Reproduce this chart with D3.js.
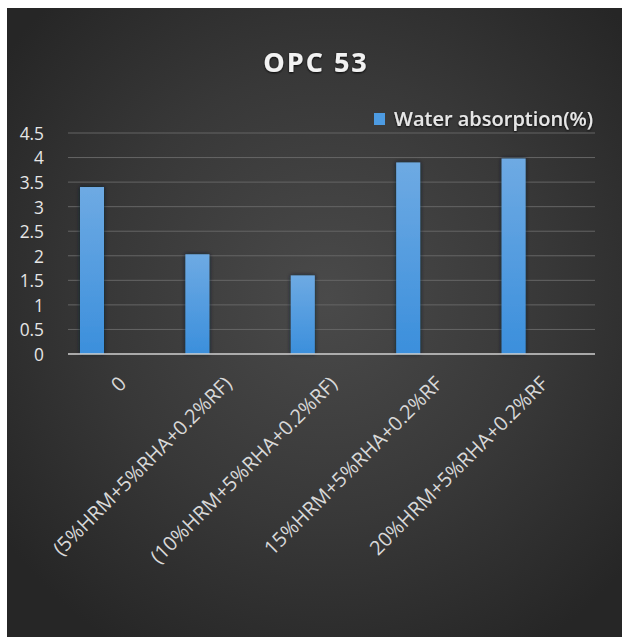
<!DOCTYPE html>
<html>
<head>
<meta charset="utf-8">
<script src="https://cdn.jsdelivr.net/npm/d3@7"></script>
<style>
  html, body { margin: 0; padding: 0; background: #ffffff; }
  svg { display: block; }
  text { font-family: "Open Sans", "DejaVu Sans", sans-serif; }
</style>
</head>
<body>
<svg id="chart" width="622" height="637"></svg>
<script>
// Water absorption of OPC 53 mixes
const categories = [
  "0",
  "(5%HRM+5%RHA+0.2%RF)",
  "(10%HRM+5%RHA+0.2%RF)",
  "15%HRM+5%RHA+0.2%RF",
  "20%HRM+5%RHA+0.2%RF"
];
const waterAbsorption = [3.4, 2.03, 1.6, 3.9, 3.98];
const yTicks = [0, 0.5, 1, 1.5, 2, 2.5, 3, 3.5, 4, 4.5];
const seriesName = "Water absorption(%)";
const chartTitle = "OPC 53";

const W = 622, H = 637;
const svg = d3.select("#chart");
const defs = svg.append("defs");

// panel background: dark radial shading
const bg = defs.append("radialGradient").attr("id", "bg")
  .attr("cx", "52%").attr("cy", "46%").attr("r", "65%");
bg.append("stop").attr("offset", "0%").attr("stop-color", "#4a4a4a");
bg.append("stop").attr("offset", "55%").attr("stop-color", "#383838");
bg.append("stop").attr("offset", "100%").attr("stop-color", "#262626");

const barGrad = defs.append("linearGradient").attr("id", "barGrad")
  .attr("x1", 0).attr("y1", 0).attr("x2", 0).attr("y2", 1);
barGrad.append("stop").attr("offset", "0%").attr("stop-color", "#6eaae3");
barGrad.append("stop").attr("offset", "100%").attr("stop-color", "#3b8fdc");

const shadow = defs.append("filter").attr("id", "barShadow")
  .attr("x", "-50%").attr("y", "-10%").attr("width", "200%").attr("height", "120%");
shadow.append("feGaussianBlur").attr("in", "SourceAlpha").attr("stdDeviation", 2.2).attr("result", "b");
shadow.append("feFlood").attr("flood-color", "#0d1a2a").attr("flood-opacity", 0.85);
shadow.append("feComposite").attr("in2", "b").attr("operator", "in").attr("result", "s");
const sm = shadow.append("feMerge");
sm.append("feMergeNode").attr("in", "s");
sm.append("feMergeNode").attr("in", "SourceGraphic");

const txtShadow = defs.append("filter").attr("id", "txtShadow")
  .attr("x", "-20%").attr("y", "-40%").attr("width", "140%").attr("height", "180%");
txtShadow.append("feDropShadow").attr("dx", 0).attr("dy", 1).attr("stdDeviation", 1.2)
  .attr("flood-color", "#000").attr("flood-opacity", 0.9);

svg.append("rect").attr("x", 7).attr("y", 8).attr("width", W - 7).attr("height", H - 8)
  .attr("fill", "url(#bg)");

const plot = { left: 68, right: 595, top: 133, bottom: 354 };

const x = d3.scaleBand().domain(categories).range([plot.left, plot.right]);
const y = d3.scaleLinear().domain([0, 4.5]).range([plot.bottom, plot.top]);

// gridlines
svg.append("g").selectAll("line").data(yTicks.filter(d => d > 0)).join("line")
  .attr("x1", plot.left).attr("x2", plot.right)
  .attr("y1", d => y(d)).attr("y2", d => y(d))
  .attr("stroke", "#656565").attr("stroke-width", 1);

// bars sit in the first slot of each category cluster
const slot = d3.scaleBand().domain([0, 1, 2]).range([0, x.bandwidth()])
  .paddingInner(0.164).paddingOuter(0.418);
svg.append("g").attr("filter", "url(#barShadow)")
  .selectAll("rect").data(waterAbsorption).join("rect")
  .attr("x", (d, i) => x(categories[i]) + slot(0))
  .attr("width", slot.bandwidth())
  .attr("y", d => y(d))
  .attr("height", d => y(0) - y(d))
  .attr("fill", "url(#barGrad)");

// x axis line
svg.append("line").attr("x1", plot.left).attr("x2", plot.right)
  .attr("y1", y(0)).attr("y2", y(0))
  .attr("stroke", "#d0d0d0").attr("stroke-width", 1.5);

// y tick labels (tall digits)
const yAxis = d3.axisLeft(y).tickValues(yTicks).tickSize(0).tickPadding(0)
  .tickFormat(d3.format("~g"));
const gy = svg.append("g").attr("transform", "translate(44,0)").call(yAxis);
gy.select(".domain").remove();
gy.selectAll("text")
  .attr("fill", "#e6e6e6").attr("font-size", 16.5)
  .attr("transform", "scale(1.05,1.08)")
  .attr("dy", "0.36em");

// category labels, rotated
const xAxis = d3.axisBottom(x).tickSize(0).tickPadding(0);
const gx = svg.append("g").attr("transform", `translate(0,${plot.bottom})`).call(xAxis);
gx.select(".domain").remove();
gx.selectAll("text")
  .attr("fill", "#d8d8d8").attr("font-size", 20)
  .attr("text-anchor", "end")
  .attr("dx", 0).attr("dy", 0)
  .attr("y", 0).attr("x", 0)
  .attr("transform", "translate(7,31) rotate(-45)");

// title
svg.append("text").attr("x", 316).attr("y", 72)
  .attr("text-anchor", "middle").attr("font-size", 27).attr("font-weight", "bold")
  .attr("letter-spacing", 2).attr("fill", "#f2f2f2").attr("filter", "url(#txtShadow)")
  .text(chartTitle);

// legend
const lg = svg.append("g").attr("transform", "translate(374,113)");
lg.append("rect").attr("width", 11).attr("height", 12).attr("fill", "#4d9be2");
lg.append("text").attr("x", 20).attr("y", 6).attr("dy", "0.36em")
  .attr("font-size", 20).attr("font-weight", 600).attr("fill", "#e6e6e6")
  .attr("filter", "url(#txtShadow)")
  .text(seriesName);
</script>
</body>
</html>
